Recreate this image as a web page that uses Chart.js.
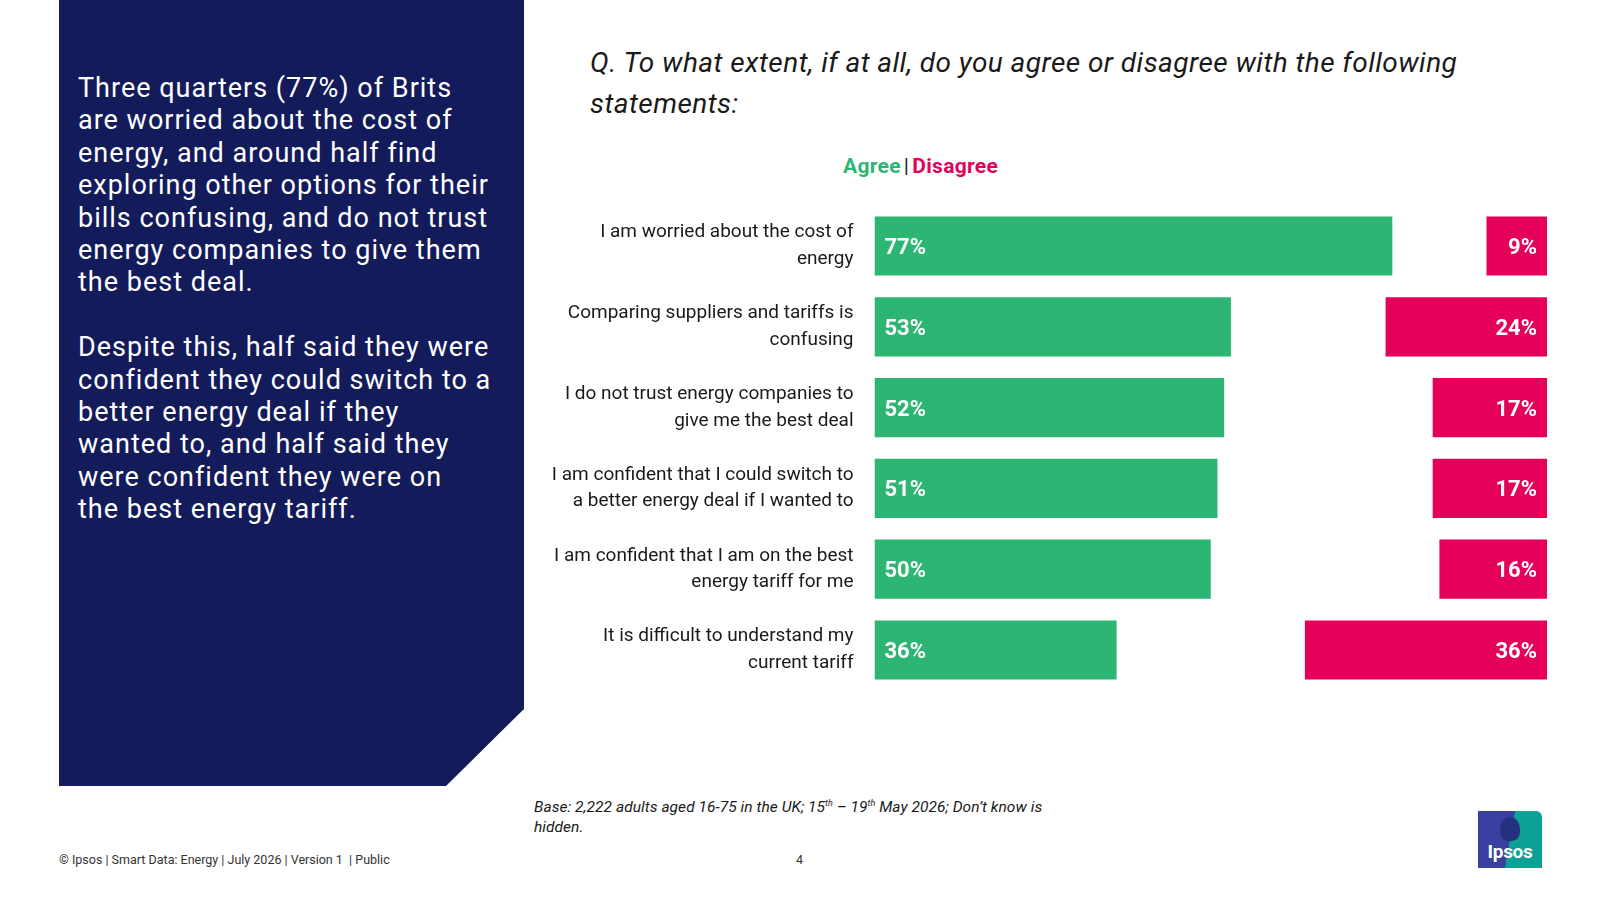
<!DOCTYPE html>
<html>
<head>
<meta charset="utf-8">
<script src="https://cdn.jsdelivr.net/npm/chart.js@4.4.1/dist/chart.umd.min.js"></script>
<style>
  html, body { margin:0; padding:0; background:#ffffff; }
  body { width:1600px; height:900px; position:relative; overflow:hidden; font-family: Roboto, "Noto Sans", sans-serif; }
  #panel { position:absolute; left:59px; top:0; width:465px; height:786px; background:#131B5A;
           clip-path: polygon(0 0, 100% 0, 100% 709px, 387px 100%, 0 100%); }
  #panelText { position:absolute; left:78px; top:72px; width:440px; color:#fff; font-size:27px; line-height:32.4px; letter-spacing:1.0px; white-space:nowrap; }
  #title { position:absolute; left:590px; top:43px; color:#1a1a1a; font-size:28px; font-style:italic; line-height:40.8px; letter-spacing:0.45px; white-space:nowrap; }
  #legend { position:absolute; left:843px; top:153px; font-size:21px; font-weight:bold; line-height:26px; letter-spacing:0.3px; white-space:nowrap; }
  #legend .a { color:#2DB573; } #legend .d { color:#E5005A; } #legend .s { color:#222; font-weight:normal; margin:0 3px; }
  #chartWrap { position:absolute; left:530px; top:195px; width:1040px; height:510px; }
  #note { position:absolute; left:534px; top:794px; font-size:15.5px; font-style:italic; line-height:19.5px; letter-spacing:0.05px; color:#1a1a1a; white-space:nowrap; }
  #note sup { font-size:9px; }
  #footer { position:absolute; left:59px; top:852px; font-size:12.5px; color:#333; white-space:nowrap; }
  #page { position:absolute; left:796px; top:852px; font-size:12.5px; color:#333; }
  #logo { position:absolute; left:1478px; top:811px; width:64px; height:57px; overflow:hidden;
          background: linear-gradient(100deg, #3A40A0 0%, #3A40A0 50%, #0AA197 50%, #0AA197 100%);
          border-radius:0 6px 0 0; }
  #logo .head { position:absolute; left:22px; top:6px; width:20px; height:24px; background:#23317E; border-radius:50% 50% 40% 40%; }
  #logo .t { position:absolute; left:0; width:64px; bottom:5px; text-align:center; color:#fff; font-weight:bold; font-size:19px; letter-spacing:-0.3px; }
</style>
</head>
<body>
<div id="panel"></div>
<div id="panelText">Three quarters (77%) of Brits<br>are worried about the cost of<br>energy, and around half find<br>exploring other options for their<br>bills confusing, and do not trust<br>energy companies to give them<br>the best deal.<br><br>Despite this, half said they were<br>confident they could switch to a<br>better energy deal if they<br>wanted to, and half said they<br>were confident they were on<br>the best energy tariff.</div>
<div id="title">Q. To what extent, if at all, do you agree or disagree with the following<br>statements:</div>
<div id="legend"><span class="a">Agree</span><span class="s">|</span><span class="d">Disagree</span></div>
<div id="chartWrap"><canvas id="c"></canvas></div>
<div id="note">Base: 2,222 adults aged 16-75 in the UK; 15<sup>th</sup> – 19<sup>th</sup> May 2026; Don’t know is<br>hidden.</div>
<div id="footer">© Ipsos | Smart Data: Energy | July 2026 | Version 1 &nbsp;| Public</div>
<div id="page">4</div>
<div id="logo"><div class="head"></div><div class="t">Ipsos</div></div>
<script>
const categories = [
  ["I am worried about the cost of", "energy"],
  ["Comparing suppliers and tariffs is", "confusing"],
  ["I do not trust energy companies to", "give me the best deal"],
  ["I am confident that I could switch to", "a better energy deal if I wanted to"],
  ["I am confident that I am on the best", "energy tariff for me"],
  ["It is difficult to understand my", "current tariff"]
];
const agreeValues = [77, 53, 52, 51, 50, 36];
const disagreeValues = [9, 24, 17, 17, 16, 36];
const seriesNames = ["Agree", "Disagree"];
const GREEN = "#2DB573", PINK = "#E5005A";

const labelPlugin = {
  id: 'barLabels',
  afterDatasetsDraw(chart) {
    const ctx = chart.ctx;
    ctx.save();
    ctx.fillStyle = '#ffffff';
    ctx.font = 'bold 22px Roboto, sans-serif';
    ctx.textBaseline = 'middle';
    chart.data.datasets.forEach((ds, di) => {
      const meta = chart.getDatasetMeta(di);
      meta.data.forEach((el, i) => {
        const vals = di === 0 ? agreeValues : disagreeValues;
        const txt = vals[i] + '%';
        const left = Math.min(el.x, el.base), right = Math.max(el.x, el.base);
        if (di === 0) { ctx.textAlign = 'left'; ctx.fillText(txt, left + 10, el.y + 2.5); }
        else { ctx.textAlign = 'right'; ctx.fillText(txt, right - 10, el.y + 2.5); }
      });
    });
    ctx.restore();
  }
};

new Chart(document.getElementById('c'), {
  type: 'bar',
  data: {
    labels: categories,
    datasets: [
      { label: seriesNames[0], data: agreeValues.map(v => [0, v]), backgroundColor: GREEN, grouped: false,
        barPercentage: 0.733, categoryPercentage: 1 },
      { label: seriesNames[1], data: disagreeValues.map(v => [100 - v, 100]), backgroundColor: PINK, grouped: false,
        barPercentage: 0.733, categoryPercentage: 1 }
    ]
  },
  options: {
    indexAxis: 'y',
    responsive: true,
    maintainAspectRatio: false,
    animation: false,
    layout: { padding: { top: 10.6, bottom: 14.6, right: 23, left: 0 } },
    plugins: { legend: { display: false }, tooltip: { enabled: false } },
    scales: {
      x: { min: 0, max: 100, display: false },
      y: {
        grid: { display: false, drawTicks: false },
        border: { display: false },
        afterFit: (s) => { s.width = 344.5; s.paddingTop = 0; s.paddingBottom = 0; },
        ticks: { color: '#1a1a1a', padding: 21, font: { family: 'Roboto', size: 19, lineHeight: 1.4 } }
      }
    }
  },
  plugins: [labelPlugin]
});
</script>
</body>
</html>
